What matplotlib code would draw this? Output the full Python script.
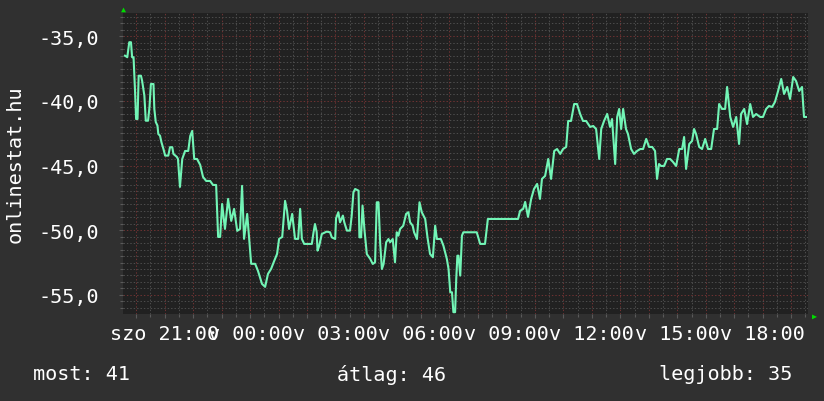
import matplotlib.pyplot as plt
from matplotlib.ticker import MultipleLocator, FuncFormatter

# time in hours (24 = sunday 00:00)
hours = [19.61, 19.69, 19.76, 19.82, 19.86, 19.91, 19.96, 20.00, 20.05, 20.09,
         20.17, 20.21, 20.29, 20.34, 20.42, 20.47, 20.52, 20.61, 20.64, 20.69,
         20.75, 20.78, 20.84, 20.89, 20.96, 21.02, 21.13, 21.19, 21.27, 21.31,
         21.43, 21.47, 21.54, 21.62, 21.72, 21.83, 21.90, 21.97, 22.04, 22.14,
         22.25, 22.35, 22.46, 22.60, 22.70, 22.81, 22.88, 22.95, 23.02, 23.12,
         23.23, 23.34, 23.44, 23.55, 23.65, 23.72, 23.79, 23.90, 23.97, 24.04,
         24.18, 24.28, 24.42, 24.53, 24.63, 24.74, 24.85, 24.95, 25.02, 25.13,
         25.23, 25.30, 25.37, 25.48, 25.58, 25.69, 25.76, 25.82, 25.90, 26.17,
         26.23, 26.28, 26.34, 26.37, 26.43, 26.52, 26.69, 26.81, 26.87, 26.99,
         27.02, 27.10, 27.16, 27.26, 27.31, 27.40, 27.51, 27.57, 27.63, 27.69,
         27.81, 27.84, 27.90, 27.95, 28.02, 28.10, 28.22, 28.31, 28.39, 28.45,
         28.51, 28.57, 28.63, 28.69, 28.78, 28.86, 28.92, 29.01, 29.09, 29.15,
         29.21, 29.27, 29.38, 29.48, 29.56, 29.62, 29.71, 29.76, 29.86, 29.95,
         30.03, 30.15, 30.23, 30.32, 30.42, 30.50, 30.56, 30.70, 30.79, 30.91,
         30.97, 31.03, 31.09, 31.14, 31.20, 31.24, 31.28, 31.32, 31.38, 31.44,
         31.49, 31.96, 32.08, 32.25, 32.35, 32.78, 33.41, 33.48, 33.59, 33.66,
         33.76, 33.87, 33.97, 34.08, 34.18, 34.25, 34.36, 34.47, 34.57, 34.68,
         34.78, 34.89, 34.99, 35.10, 35.17, 35.27, 35.38, 35.48, 35.59, 35.69,
         35.80, 35.94, 36.05, 36.15, 36.26, 36.33, 36.43, 36.54, 36.64, 36.71,
         36.82, 36.89, 36.96, 37.03, 37.10, 37.20, 37.27, 37.38, 37.48, 37.59,
         37.70, 37.80, 37.91, 38.01, 38.12, 38.22, 38.29, 38.36, 38.43, 38.54,
         38.64, 38.75, 38.85, 38.96, 39.07, 39.17, 39.24, 39.31, 39.42, 39.52,
         39.59, 39.66, 39.77, 39.87, 39.98, 40.08, 40.19, 40.29, 40.40, 40.47,
         40.57, 40.68, 40.75, 40.86, 40.96, 41.07, 41.17, 41.24, 41.35, 41.45,
         41.56, 41.66, 41.77, 41.91, 42.01, 42.12, 42.22, 42.33, 42.43, 42.54,
         42.65, 42.75, 42.86, 42.96, 43.07, 43.17, 43.28, 43.38, 43.45, 43.52]
values = [-36.50, -36.62, -35.46, -35.46, -36.62, -36.62, -39.08, -41.40, -41.40, -38.05,
          -38.05, -38.43, -39.59, -41.53, -41.53, -40.47, -38.69, -38.69, -40.62, -41.63,
          -41.91, -42.56, -42.69, -43.20, -43.72, -44.23, -44.23, -43.58, -43.58, -44.10,
          -44.33, -44.49, -46.65, -44.49, -43.87, -43.87, -42.71, -42.32, -44.49, -44.49,
          -44.95, -45.88, -46.19, -46.19, -46.50, -46.50, -50.52, -50.52, -47.97, -49.90,
          -47.58, -49.28, -48.35, -50.05, -49.90, -46.57, -50.67, -48.74, -50.67, -52.60,
          -52.60, -53.15, -54.15, -54.38, -53.38, -52.99, -52.37, -51.83, -50.67, -50.52,
          -47.73, -48.51, -49.90, -48.74, -50.67, -50.67, -48.35, -50.67, -51.06, -51.06,
          -50.16, -49.52, -50.14, -51.58, -51.20, -50.29, -50.11, -50.16, -50.55, -50.68,
          -49.08, -48.61, -49.39, -48.87, -49.39, -50.03, -50.03, -48.87, -47.07, -46.81,
          -46.94, -50.55, -50.55, -48.10, -50.03, -51.84, -52.22, -52.61, -52.48, -47.84,
          -47.84, -51.06, -53.00, -52.61, -50.93, -50.68, -50.93, -50.68, -52.48, -50.16,
          -50.42, -49.90, -49.65, -48.74, -48.61, -49.39, -49.65, -50.16, -50.68, -47.84,
          -48.61, -49.13, -50.55, -51.84, -52.09, -49.65, -50.68, -50.68, -51.20, -52.22,
          -53.00, -54.80, -54.80, -56.34, -56.34, -53.77, -51.97, -51.97, -53.51, -50.42,
          -50.16, -50.16, -51.06, -51.06, -49.13, -49.13, -49.13, -48.51, -48.35, -47.81,
          -48.97, -47.58, -46.81, -46.42, -47.58, -46.03, -45.80, -44.49, -46.03, -43.87,
          -43.72, -44.10, -43.72, -43.56, -41.55, -41.55, -40.24, -40.24, -41.01, -41.55,
          -41.55, -42.01, -41.94, -42.17, -44.49, -42.17, -41.55, -41.01, -42.01, -41.40,
          -44.88, -41.24, -40.62, -42.17, -40.62, -42.17, -42.56, -43.72, -44.10, -43.87,
          -43.72, -43.72, -42.94, -43.56, -43.56, -43.87, -46.03, -44.88, -45.03, -45.03,
          -44.49, -44.49, -44.72, -45.03, -43.72, -43.72, -42.79, -45.26, -43.33, -43.10,
          -42.17, -42.56, -43.56, -43.72, -42.94, -43.72, -43.72, -42.17, -42.17, -40.24,
          -40.62, -40.62, -38.92, -41.24, -42.01, -41.24, -43.33, -41.01, -40.62, -41.79,
          -40.24, -41.24, -41.01, -41.24, -41.24, -40.62, -40.39, -40.47, -40.08, -39.23,
          -38.30, -39.46, -38.92, -39.85, -38.15, -38.46, -39.23, -38.92, -41.24, -41.24]

tick_hours = [21, 24, 27, 30, 33, 36, 39, 42]
tick_labels = ['szo 21:00', 'v 00:00', 'v 03:00', 'v 06:00',
               'v 09:00', 'v 12:00', 'v 15:00', 'v 18:00']
legend_texts = ['most: 41', 'átlag: 46', 'legjobb: 35']

plt.rcParams['font.family'] = 'DejaVu Sans Mono'

fig = plt.figure(figsize=(8.24, 4.02), dpi=100, facecolor='#303030')
ax = fig.add_axes([123/824, 87/402, 685/824, 301/402])
ax.set_facecolor('#212121')

ax.plot(hours, values, color='#72f5b6', linewidth=1.5, zorder=3)

ax.set_xlim(19.54, 43.59)
ax.set_ylim(-56.48, -33.20)

# grid: gray minor, red major
ax.xaxis.set_major_locator(MultipleLocator(1))
ax.xaxis.set_minor_locator(MultipleLocator(0.5))
ax.yaxis.set_major_locator(MultipleLocator(5))
ax.yaxis.set_minor_locator(MultipleLocator(0.5))
ax.grid(which='minor', color='#4c4c4c', linestyle=(0, (1.4, 2.0)), linewidth=0.72)
ax.grid(which='major', color='#6e3232', linestyle=(0, (1.4, 2.0)), linewidth=0.72)

labels = dict(zip(tick_hours, tick_labels))
ax.xaxis.set_major_formatter(FuncFormatter(lambda v, p: labels.get(int(round(v)), '')))
ax.yaxis.set_major_formatter(FuncFormatter(lambda v, p: ('%.1f' % v).replace('.', ',')))

ax.tick_params(which='both', colors='#5a5a5a', length=3, width=0.8)
ax.tick_params(which='minor', length=2)
ax.tick_params(labelcolor='white', labelsize=14.5)
ax.tick_params(axis='x', pad=4)
ax.tick_params(axis='y', pad=14)

for s in ax.spines.values():
    s.set_visible(False)

ax.set_ylabel('onlinestat.hu', color='white', fontsize=14.5, labelpad=10)

# arrows at axis ends
fig.text(123/824, 1 - 9/402, '▲', color='#00dd00', fontsize=6, ha='center', va='center')
fig.text(814/824, 1 - 316/402, '▶', color='#00dd00', fontsize=6, ha='center', va='center')

fig.text(33/824, 1 - 375/402, legend_texts[0], color='white', fontsize=14.5, ha='left', va='center')
fig.text(392/824, 1 - 375/402, legend_texts[1], color='white', fontsize=14.5, ha='center', va='center')
fig.text(792/824, 1 - 375/402, legend_texts[2], color='white', fontsize=14.5, ha='right', va='center')

fig.savefig('out.png', dpi=100, facecolor=fig.get_facecolor())
